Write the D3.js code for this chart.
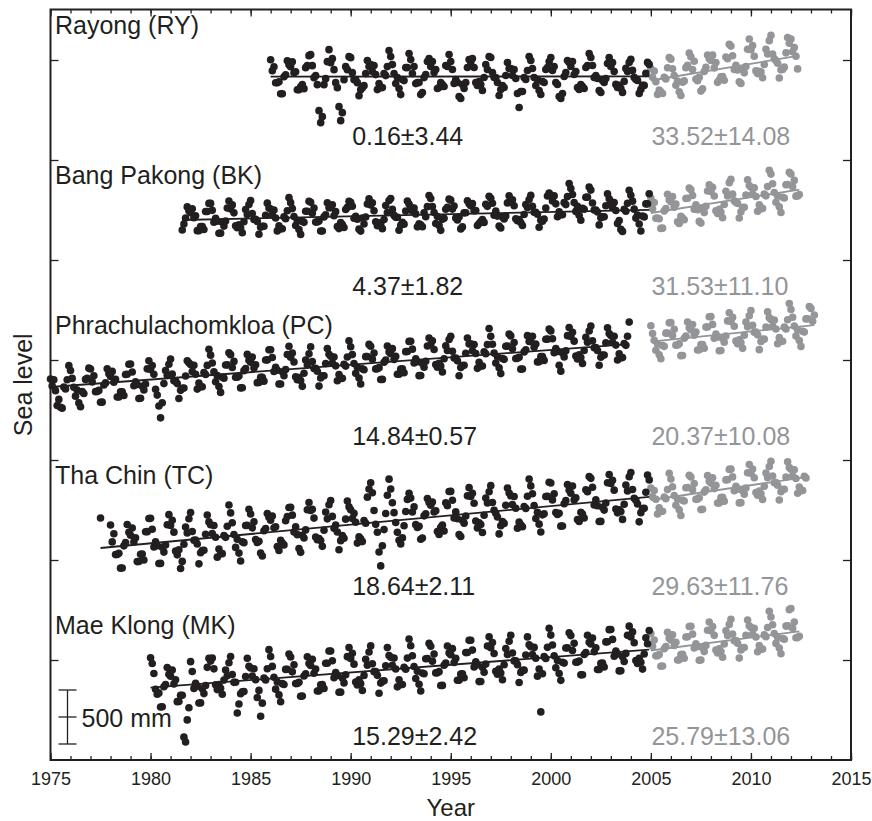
<!DOCTYPE html>
<html>
<head>
<meta charset="utf-8">
<script src="https://cdn.jsdelivr.net/npm/d3@7"></script>
<style>
  body { margin: 0; background: #fff; }
</style>
</head>
<body>
<svg id="chart" width="872" height="821"></svg>
<script>
// chart size and frame
const width = 872;
const height = 821;
const marginTop = 9.5;
const marginRight = 21;
const marginBottom = 61;
const marginLeft = 50.5;

const ink = "#231f20";
const grey = "#939598";
const font = "'Liberation Sans', Arial, Helvetica, sans-serif";

// axis ticks
const yearTicks = [1975, 1980, 1985, 1990, 1995, 2000, 2005, 2010, 2015];
const levelTicks = [1000, 2000, 3000, 4000, 5000, 6000, 7000];   // mm

// stations, top to bottom
const stations = ["Rayong (RY)", "Bang Pakong (BK)", "Phrachulachomkloa (PC)", "Tha Chin (TC)", "Mae Klong (MK)"];
// trend rates (mm/yr) and errors, tide gauge part (black) and 2005- part (grey)
const rateOld = [0.16, 4.37, 14.84, 18.64, 15.29];
const errOld  = [3.44, 1.82, 0.57, 2.11, 2.42];
const rateNew = [33.52, 31.53, 20.37, 29.63, 25.79];
const errNew  = [14.08, 11.10, 10.08, 11.76, 13.06];
// first month of each record (decimal year)
const startOld = [1986.0, 1981.583, 1975.0, 1977.5, 1980.0];
const startNew = [2005.0, 2005.0, 2005.0, 2005.0, 2005.0];
// trend level at the start of each record, stacked offsets in mm
const levelOld = [6833, 5400, 3730, 2120, 723];
const levelNew = [6795, 5470, 4183, 2600, 1095];
// baseline of each panel's rate labels (mm in the stacked scale)
const panelBase = [6150, 4650, 3150, 1650, 150];

// monthly anomalies from trend, cm, one row per year
const ryOld = [
  [17, 6, 10, -6, -6, -5, -17, -17, 0, 2, 16, 12],
  [10, 15, 4, 5, -13, -13, -10, -8, -12, 9, 11, 21],
  [22, 11, -1, 1, -8, -34, -46, -40, -8, -2, 15, 27],
  [14, 18, 7, -6, -11, -30, -44, -36, -3, 10, 7, 20],
  [19, 4, -3, -3, -6, -19, -13, -11, -9, 3, 16, 10],
  [12, 5, 11, 2, -13, -7, -11, -11, 3, 1, 10, 26],
  [20, 12, 3, -7, -1, -12, -18, -3, -4, 9, 9, 23],
  [17, 3, 10, -7, -6, -6, -18, -16, -1, 2, 15, 18],
  [10, 15, 4, 7, -12, -11, -6, -8, -10, 11, 10, 22],
  [15, 7, -7, -3, -6, -20, -22, -8, -12, -6, 9, 17],
  [14, 18, 9, -6, -9, -5, -8, -14, -1, 12, 7, 20],
  [19, 4, -1, -1, -6, -19, -13, -9, -11, 1, 14, 8],
  [8, 1, 7, -2, -17, -31, -15, -15, -1, -3, 6, 20],
  [16, 8, -1, -9, -3, -14, -18, -5, -6, 7, 9, 15],
  [19, 6, 10, -6, -8, -20, -22, -17, 0, 4, 16, 14],
  [10, 15, 2, 5, -11, -13, -8, -10, -12, 9, 11, 23],
  [19, 11, -1, 1, -2, -14, -16, -4, -6, -2, 13, 19],
  [10, 14, 5, -8, -11, -9, -12, -16, -5, 8, 5, 14],
  [17, 6, -1, -3, -4, -17, -13, -9, -9, 3, 14, 12]
];
const ryNew = [
  [12, 3, 9, -2, -15, -11, -13, -15, 1, -1, 10, 20],
  [18, 8, 1, -9, -5, -16, -20, -7, -6, 7, 9, 21],
  [17, 4, 12, -6, -8, -5, -19, -17, 0, 4, 16, 12],
  [10, 15, 2, 7, -13, -11, -8, -8, -12, 11, 9, 23],
  [21, 11, -3, 1, -4, -16, -18, -4, -8, -2, 15, 25],
  [14, 18, 7, -8, -11, -9, -10, -16, -3, 12, 7, 20],
  [25, 6, 1, -1, -4, -19, -11, -11, -9, 5, 20, 14],
  [18, 5, 9, 0, -13]
];

const bkOld = [
  [-10, -4, 2, 13, 9],
  [7, 11, 2, 4, -11, -11, -7, -7, -10, 8, 8, 16],
  [16, 9, -3, 1, -2, -14, -14, -3, -7, -2, 11, 18],
  [10, 14, 6, -7, -9, -6, -9, -14, -3, 9, 4, 14],
  [18, 5, -1, -1, -3, -16, -9, -8, -8, 3, 15, 10],
  [9, 3, 8, 0, -13, -8, -11, -11, 1, -1, 7, 20],
  [15, 9, 1, -8, -3, -12, -17, -4, -5, 6, 6, 16],
  [15, 4, 9, -5, -5, -4, -14, -14, 0, 2, 14, 9],
  [9, 12, 1, 5, -10, -12, -6, -8, -11, 7, 9, 15],
  [14, 10, -2, 0, -3, -13, -15, -2, -8, -1, 12, 17],
  [11, 13, 5, -6, -10, -7, -8, -13, -4, 10, 3, 15],
  [17, 6, 0, -2, -2, -15, -10, -7, -9, 4, 14, 11],
  [8, 4, 7, 1, -12, -9, -10, -12, 2, -2, 8, 19],
  [16, 8, 2, -9, -2, -11, -16, -5, -4, 5, 7, 15],
  [14, 5, 8, -4, -6, -3, -15, -13, 1, 1, 13, 10],
  [8, 10, 3, 3, -12, -10, -8, -6, -9, 9, 7, 17],
  [15, 10, -2, 2, -3, -13, -15, -4, -6, -3, 10, 17],
  [11, 13, 7, -6, -8, -7, -10, -13, -2, 8, 5, 13],
  [17, 6, 0, 0, -2, -15, -8, -9, -7, 4, 16, 19],
  [17, 11, 16, 8, -5, 0, -3, -3, 9, 7, 15, 28],
  [23, 17, 9, 0, 5, -4, -9, 3, 2, 14, 14, 24],
  [21, 8, 1, 1, -1, -14, -7, -6, -6, 5, 17, 12],
  [9, 3, 8, 0, -13, -10, -19, -21, 1, -1, 7, 20],
  [15, 9, 1, -8, -5, -14, -21, -6, -7, 6, 6, 16]
];
const bkNew = [
  [15, 4, 10, -6, -6, -7, -17, -17, 0, 2, 16, 10],
  [8, 13, 2, 5, -13, -15, -8, -10, -12, 9, 9, 19],
  [17, 11, -3, 1, -4, -16, -18, -4, -8, -2, 13, 19],
  [12, 16, 7, -8, -11, -7, -10, -16, -3, 10, 5, 18],
  [21, 6, -1, -3, -4, -19, -13, -9, -9, 3, 18, 12],
  [10, 3, 9, 0, -15, -9, -13, -13, 1, -1, 8, 24],
  [20, 10, 1, -9, -3, -14, -20, -5, -6, 7, 7, 19],
  [17, 4, 10, -6, -6, -5]
];

const pcOld = [
  [8, 1, 7, -4, -19, -13, -21, -22, -1, -3, 6, 20],
  [15, 7, -2, -11, -5, -18, -22, -7, -9, 5, 6, 16],
  [15, 2, 8, -8, -8, -7, -19, -19, -2, 0, 14, 9],
  [6, 11, 0, 3, -15, -15, -10, -10, -14, 7, 7, 17],
  [17, 9, -5, -1, -4, -18, -18, -6, -10, -4, 11, 19],
  [10, 14, 5, -10, -16, -27, -39, -24, -5, 8, 3, 14],
  [19, 4, -3, -3, -6, -21, -13, -11, -11, 1, 16, 14],
  [12, 5, 11, 2, -13, -7, -11, -11, 3, 1, 10, 26],
  [20, 12, 3, -7, -1, -12, -18, -3, -4, 9, 9, 21],
  [19, 6, 12, -4, -4, -3, -15, -15, 2, 4, 18, 12],
  [10, 15, 4, 7, -11, -11, -6, -6, -10, 11, 11, 21],
  [21, 13, -1, 3, 0, -14, -14, -2, -6, 0, 15, 23],
  [12, 16, 7, -8, -11, -9, -12, -18, -5, 8, 3, 14],
  [21, 6, -1, -1, -4, -19, -11, -9, -9, 3, 18, 12],
  [10, 3, 9, 0, -15, -9, -13, -13, 1, -1, 8, 24],
  [18, 10, 1, -9, -3, -14, -20, -5, -6, 7, 7, 19],
  [17, 4, 10, -6, -6, -5, -17, -17, 0, 2, 16, 10],
  [8, 13, 2, 5, -13, -13, -8, -8, -12, 9, 9, 19],
  [19, 11, -3, 1, -2, -16, -16, -4, -8, -2, 13, 21],
  [14, 18, 9, -6, -9, -5, -8, -14, -1, 12, 7, 18],
  [21, 6, -1, -1, -4, -19, -11, -9, -9, 3, 18, 12],
  [12, 5, 11, 2, -13, -7, -11, -11, 3, 1, 10, 26],
  [18, 10, 1, -9, -3, -14, -20, -5, -6, 7, 7, 19],
  [17, 4, 10, -6, -6, -5, -17, -17, 0, 2, 16, 10],
  [10, 15, 4, 7, -11, -11, -6, -6, -10, 11, 11, 21],
  [19, 11, -3, 1, -2, -16, -22, -4, -8, -2, 13, 21],
  [12, 16, 7, -8, -11, -7, -10, -16, -3, 10, 5, 16],
  [21, 6, -1, -1, -4, -19, -11, -9, -9, 3, 18, 12],
  [10, 3, 9, 0, -15, -9, -13, -13, 1, -1, 8, 22]
];
const pcNew = [
  [16, 8, 1, -9, -3, -14, -18, -5, -6, 7, 7, 17],
  [17, 4, 10, -6, -6, -5, -17, -17, 0, 2, 16, 10],
  [8, 13, 2, 5, -13, -13, -8, -8, -12, 9, 9, 19],
  [19, 11, -3, 1, -2, -16, -16, -4, -8, -2, 13, 21],
  [12, 16, 7, -8, -11, -7, -10, -16, -3, 10, 5, 16],
  [21, 6, -1, -1, -4, -19, -11, -9, -9, 3, 18, 12],
  [10, 3, 9, 0, -15, -9, -13, -13, 1, -1, 8, 24],
  [18, 10, 1, -9, -3, -14, -20, -5, -6, 7, 7, 19],
  [17, 4, 10]
];

const tcOld = [
  [30, null, null, null, null, null],
  [22, 5, 13, -8, -8, -7, -22, -22, 0, 3, 21, 13],
  [10, 17, 3, 7, -17, -17, -10, -10, -16, 12, 12, 25],
  [25, 14, -4, 1, -3, -21, -21, -5, -10, -3, 17, 27],
  [16, 21, 9, -10, -14, -9, -28, -21, -4, 13, 7, 21],
  [27, 8, -1, -1, -5, -25, -14, -12, -12, 4, 23, 16],
  [13, 4, 12, 0, -20, -12, -17, -17, 1, -1, 10, 31],
  [23, 13, 1, -12, -4, -18, -26, -7, -8, 9, 9, 25],
  [20, 6, 12, -6, -9, -8, -20, -23, 2, 4, 19, 15],
  [12, 16, 4, 5, -15, -19, -9, -12, -14, 10, 14, 23],
  [23, 15, -2, 3, -5, -19, -23, -6, -9, -1, 19, 26],
  [18, 19, 10, -9, -12, -11, -13, -19, -3, 15, 8, 22],
  [26, 10, -2, 1, -6, -24, -15, -10, -13, 6, 24, 18],
  [15, 6, 11, 2, -19, -13, -15, -18, 3, 0, 26, 34],
  [40, 30, 12, -2, -10, -30, -44, -24, -8, 8, 26, 42],
  [32, 18, 8, -2, -12, -20, -24, -18, -6, 8, 20, 26],
  [21, 7, 12, -6, -9, -8, -21, -20, 2, 4, 19, 15],
  [12, 15, 5, 6, -15, -18, -11, -9, -15, 13, 10, 24],
  [24, 15, -3, 3, -4, -20, -22, -6, -9, -2, 18, 26],
  [17, 20, 10, -8, -15, -10, -12, -20, -3, 14, 9, 20],
  [26, 9, 1, -2, -6, -23, -15, -11, -13, 5, 22, 17],
  [14, 5, 13, 1, -19, -13, -16, -18, 2, 0, 12, 29],
  [22, 14, 2, -11, -5, -17, -25, -8, -7, 10, 10, 24],
  [23, 6, 12, -7, -9, -8, -21, -21, 1, 4, 20, 14],
  [11, 18, 4, 6, -16, -18, -9, -11, -15, 13, 11, 26],
  [24, 15, -3, 2, -4, -20, -20, -6, -9, -2, 18, 26],
  [17, 20, 10, -9, -13, -10, -12, -20, -5, 14, 8, 22],
  [26, 9, 0, -2, -6, -24, -15, -11, -11, 5, 22, 17]
];
const tcNew = [
  [12, 3, 9, 0, -15, -9, -13, -13, 1, -1, 8, 24],
  [18, 10, 1, -9, -3, -14, -20, -5, -6, 7, 7, 19],
  [17, 4, 10, -6, -6, -5, -17, -17, 0, 2, 16, 10],
  [8, 13, 2, 5, -13, -13, -8, -8, -12, 9, 9, 19],
  [19, 11, -3, 1, -2, -16, -16, -4, -8, -2, 13, 21],
  [12, 16, 7, -8, -11, -7, -10, -16, -3, 10, 5, 16],
  [21, 6, -1, -1, -4, -19, -11, -9, -9, 3, 18, 12],
  [10, 3, 9, 0, -15, -9, -13, -13, 1, -1]
];

const mkOld = [
  [30, 24, 14, -2, -7, -6, -20, -20, 0, 2, 19, 12],
  [10, 16, 2, 6, -16, -16, -10, -10, -52, -57, -35, -23],
  [23, 13, -4, 1, -2, -19, -19, -5, -10, -2, 16, 25],
  [22, 25, 14, -2, -7, -2, -6, -12, 2, 12, 6, 19],
  [25, 7, -1, -1, -32, -23, -13, -11, -11, 4, 22, 14],
  [12, 4, 11, 0, -18, -11, -37, -24, 1, -1, 10, 29],
  [22, 12, 1, -11, -4, -17, -24, -6, -7, 8, 8, 23],
  [20, 5, 12, -7, -7, -6, -20, -20, 0, 2, 19, 12],
  [10, 16, 2, 6, -16, -16, -10, -10, -14, 11, 11, 23],
  [23, 13, -4, 1, -2, -19, -19, -5, -10, -2, 16, 25],
  [14, 19, 8, -10, -13, -8, -12, -19, -4, 12, 6, 19],
  [25, 7, -1, -1, -5, -23, -13, -11, -11, 4, 22, 14],
  [12, 4, 11, 0, -18, -11, -16, -16, 1, -1, 10, 29],
  [22, 12, 1, -11, -4, -17, -24, -6, -7, 8, 8, 23],
  [20, 5, 12, -7, -7, -6, -20, -20, 0, 2, 19, 12],
  [10, 16, 2, 6, -16, -16, -10, -10, -14, 11, 11, 23],
  [23, 13, -4, 1, -2, -19, -19, -5, -10, -2, 16, 25],
  [14, 19, 8, -10, -13, -8, -12, -19, -4, 12, 6, 19],
  [25, 7, -1, -1, -5, -23, -13, -11, -11, 4, 22, 14],
  [12, 4, 11, 0, -18, -11, -54, -16, 1, -1, 10, 29],
  [22, 12, 1, -11, -4, -17, -24, -6, -7, 8, 8, 23],
  [20, 5, 12, -7, -7, -6, -20, -20, 0, 2, 19, 12],
  [10, 16, 2, 6, -16, -16, -10, -10, -14, 11, 11, 23],
  [23, 13, -4, 1, -2, -19, -19, -5, -10, -2, 16, 25],
  [14, 19, 8, -10, -13, -8, -12, -19, -4, 12, 6, 19]
];
const mkNew = [
  [17, 4, 10, -6, -6, -5, -17, -17, 0, 2, 16, 10],
  [8, 13, 2, 5, -13, -13, -8, -8, -12, 9, 9, 19],
  [19, 11, -3, 1, -2, -16, -16, -4, -8, -2, 13, 21],
  [12, 16, 7, -8, -11, -7, -10, -16, -3, 10, 5, 16],
  [21, 6, -1, -1, -4, -19, -11, -9, -9, 3, 18, 12],
  [10, 3, 9, 0, -15, -9, -13, -13, 1, -1, 8, 24],
  [18, 10, 1, -9, -3, -14, -20, -5, -6, 7, 7, 23],
  [24, 4, 10, -6, -6, -5]
];

const oldRows = [ryOld, bkOld, pcOld, tcOld, mkOld];
const newRows = [ryNew, bkNew, pcNew, tcNew, mkNew];

// Scales: years across, stacked sea level (mm) up
const x = d3.scaleLinear()
  .domain([1975, 2015])
  .range([marginLeft, width - marginRight]);

const y = d3.scaleLinear()
  .domain([0, 7505])
  .range([height - marginBottom, marginTop]);

const svg = d3.select("#chart");

// monthly points = trend level + rate * elapsed + anomaly
function buildSeries(rows, start, level, rate) {
  return rows.flat()
    .map((a, i) => a == null ? null : {
      t: start + i / 12,
      v: level + rate * (i / 12) + a * 10
    })
    .filter(d => d);
}

const line = d3.line().x(d => x(d.t)).y(d => y(d.v));

stations.forEach((name, k) => {
  const oldPts = buildSeries(oldRows[k], startOld[k], levelOld[k], rateOld[k]);
  const newPts = buildSeries(newRows[k], startNew[k], levelNew[k], rateNew[k]);

  const g = svg.append("g");

  // grey part (2005 onwards)
  g.append("g")
    .attr("fill", grey)
    .selectAll("circle")
    .data(newPts)
    .join("circle")
      .attr("cx", d => x(d.t))
      .attr("cy", d => y(d.v))
      .attr("r", 3.8);

  const tn = d3.extent(newPts, d => d.t);
  g.append("path")
    .datum(tn.map(t => ({ t: t, v: levelNew[k] + rateNew[k] * (t - startNew[k]) })))
    .attr("fill", "none")
    .attr("stroke", grey)
    .attr("stroke-width", 1.8)
    .attr("d", line);

  // black part (tide gauge)
  g.append("g")
    .attr("fill", ink)
    .selectAll("circle")
    .data(oldPts)
    .join("circle")
      .attr("cx", d => x(d.t))
      .attr("cy", d => y(d.v))
      .attr("r", 3.8);

  const to = d3.extent(oldPts, d => d.t);
  g.append("path")
    .datum(to.map(t => ({ t: t, v: levelOld[k] + rateOld[k] * (t - startOld[k]) })))
    .attr("fill", "none")
    .attr("stroke", ink)
    .attr("stroke-width", 1.8)
    .attr("d", line);

  // station name
  g.append("text")
    .attr("x", x(1975) + 4.5)
    .attr("y", y(panelBase[k] + 1110))
    .attr("font-family", font)
    .attr("font-size", 25)
    .attr("fill", ink)
    .text(name);

  // rate labels
  g.append("text")
    .attr("x", x(1990) + 1.5)
    .attr("y", y(panelBase[k]))
    .attr("font-family", font)
    .attr("font-size", 25)
    .attr("fill", ink)
    .text(`${rateOld[k].toFixed(2)}±${errOld[k].toFixed(2)}`);

  g.append("text")
    .attr("x", x(2005) + 0.5)
    .attr("y", y(panelBase[k]))
    .attr("font-family", font)
    .attr("font-size", 25)
    .attr("fill", grey)
    .text(`${rateNew[k].toFixed(2)}±${errNew[k].toFixed(2)}`);
});

// Axes: ticks point inwards on all four sides
const minorYears = d3.range(1975, 2016);

function styleAxis(g) {
  g.select(".domain").remove();
  g.selectAll("line").attr("stroke", ink).attr("stroke-width", 1.3);
  g.selectAll("text").attr("font-family", font).attr("font-size", 18).attr("fill", ink);
}

svg.append("g")
  .attr("transform", `translate(0,${height - marginBottom})`)
  .call(d3.axisBottom(x).tickValues(minorYears).tickSize(-4).tickFormat(""))
  .call(styleAxis);

svg.append("g")
  .attr("transform", `translate(0,${height - marginBottom})`)
  .call(d3.axisBottom(x).tickValues(yearTicks).tickSize(-7).tickPadding(12).tickFormat(d3.format("d")))
  .call(styleAxis);

svg.append("g")
  .attr("transform", `translate(0,${marginTop})`)
  .call(d3.axisTop(x).tickValues(minorYears).tickSize(-4).tickFormat(""))
  .call(styleAxis);

svg.append("g")
  .attr("transform", `translate(0,${marginTop})`)
  .call(d3.axisTop(x).tickValues(yearTicks).tickSize(-7).tickFormat(""))
  .call(styleAxis);

svg.append("g")
  .attr("transform", `translate(${marginLeft},0)`)
  .call(d3.axisLeft(y).tickValues(levelTicks).tickSize(-8).tickFormat(""))
  .call(styleAxis);

svg.append("g")
  .attr("transform", `translate(${width - marginRight},0)`)
  .call(d3.axisRight(y).tickValues(levelTicks).tickSize(-8).tickFormat(""))
  .call(styleAxis);

// frame
svg.append("rect")
  .attr("x", marginLeft)
  .attr("y", marginTop)
  .attr("width", width - marginRight - marginLeft)
  .attr("height", height - marginBottom - marginTop)
  .attr("fill", "none")
  .attr("stroke", ink)
  .attr("stroke-width", 2);

// axis titles
svg.append("text")
  .attr("x", (marginLeft + width - marginRight) / 2)
  .attr("y", height - 5)
  .attr("text-anchor", "middle")
  .attr("font-family", font)
  .attr("font-size", 24)
  .attr("fill", ink)
  .text("Year");

svg.append("text")
  .attr("transform", `translate(32,${(marginTop + height - marginBottom) / 2}) rotate(-90)`)
  .attr("text-anchor", "middle")
  .attr("font-family", font)
  .attr("font-size", 25)
  .attr("fill", ink)
  .text("Sea level");

// 500 mm scale bar
const barLow = 160, barSize = 540;   // drawn a little long, as in the figure
const barX = marginLeft + 17;
const bar = svg.append("g").attr("stroke", ink).attr("stroke-width", 1.3);
bar.append("line")
  .attr("x1", barX).attr("x2", barX)
  .attr("y1", y(barLow)).attr("y2", y(barLow + barSize));
[barLow, barLow + barSize / 2, barLow + barSize].forEach(v => {
  bar.append("line")
    .attr("x1", barX - 9).attr("x2", barX + 9)
    .attr("y1", y(v)).attr("y2", y(v));
});
svg.append("text")
  .attr("x", barX + 14)
  .attr("y", y(barLow + barSize / 2) + 10)
  .attr("font-family", font)
  .attr("font-size", 25)
  .attr("fill", ink)
  .text("500 mm");
</script>
</body>
</html>
